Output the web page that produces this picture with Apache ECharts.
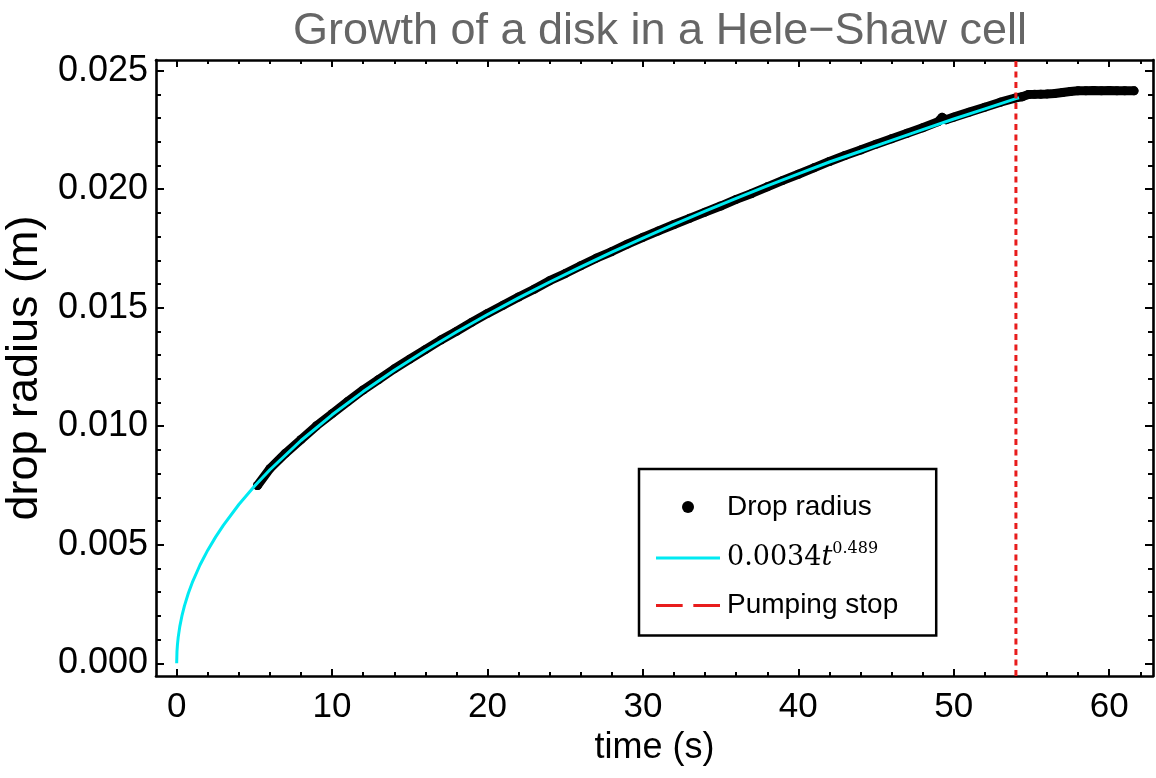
<!DOCTYPE html>
<html>
<head>
<meta charset="utf-8">
<script src="https://cdn.jsdelivr.net/npm/echarts@6/dist/echarts.min.js"></script>
<style>html,body{margin:0;padding:0;background:#fff;}#c{width:1156px;height:778px;}</style>
</head>
<body>
<div id="c"></div>
<script>
// measured drop radius (m) vs time (s)
const tData = [5.2,6,7,8,9,10,11,12,13,14,15,16,17,18,19,20,21,22,23,24,25,26,27,28,29,30,31,32,33,34,35,36,37,38,39,40,41,42,43,44,45,46,47,48,49,49.25,49.5,50,51,52,53,54,54.4,54.8,55.2,55.6,56,56.5,57,57.5,58,58.5,59,59.5,60,60.5,61,61.6];
const rData = [0.00750,0.00821,0.00886,0.00944,0.01002,0.01053,0.01104,0.01153,0.01197,0.01242,0.01283,0.01323,0.01364,0.01400,0.01439,0.01476,0.01510,0.01545,0.01578,0.01614,0.01644,0.01677,0.01709,0.01737,0.01768,0.01797,0.01824,0.01851,0.01877,0.01903,0.01929,0.01957,0.01982,0.02010,0.02037,0.02063,0.02090,0.02117,0.02142,0.02165,0.02190,0.02213,0.02236,0.02259,0.02285,0.02303,0.02293,0.02304,0.02325,0.02346,0.02367,0.02385,0.02390,0.02399,0.02400,0.02401,0.02402,0.02404,0.02408,0.02412,0.02415,0.02415,0.02416,0.02415,0.02416,0.02415,0.02415,0.02415];
// fit curve
const tFit = [0,0.02,0.05,0.1,0.2,0.35,0.5,0.75,1,1.5,2,2.5,3,4,5,6,8,10,12,14,16,18,20,22,24,26,28,30,32,34,36,38,40,42,44,46,48,50,52,54,54.2];
const rFit = [0,0.000502,0.000785,0.001103,0.001547,0.002035,0.002423,0.002954,0.0034,0.004146,0.004772,0.005322,0.005817,0.006698,0.007469,0.008166,0.009399,0.010483,0.011461,0.012358,0.013192,0.013974,0.014712,0.015414,0.016085,0.016727,0.017344,0.017939,0.018514,0.019072,0.019612,0.020137,0.020649,0.021148,0.021600,0.022060,0.022510,0.022960,0.023390,0.023820,0.023860];
const pumpStopT = 54;
const xMajor = [0,10,20,30,40,50,60];
const xMinor = [2,4,6,8,12,14,16,18,22,24,26,28,32,34,36,38,42,44,46,48,52,54,56,58,62];
const yMajor = [0,0.005,0.010,0.015,0.020,0.025];
const yMinor = [0.001,0.002,0.003,0.004,0.006,0.007,0.008,0.009,0.011,0.012,0.013,0.014,0.016,0.017,0.018,0.019,0.021,0.022,0.023,0.024];
const xMin = -1.33, xMax = 62.82, yMin = -0.000536, yMax = 0.02545;

const FONT = "'Liberation Sans', Arial, sans-serif";
const CYAN = '#00eaf2', RED = '#e81c1c';
const chart = echarts.init(document.getElementById('c'), null, {renderer:'canvas'});

function xAx(pos, vals, len, showLine, labels) {
  return {
    type:'value', position:pos, min:xMin, max:xMax,
    axisLine:{show:showLine, onZero:false, lineStyle:{color:'#000', width:2.6}},
    axisTick:{show:true, inside:true, length:len, customValues:vals, lineStyle:{color:'#000', width:2}},
    axisLabel:labels ? {show:true, customValues:xMajor, color:'#000', fontSize:35, fontFamily:FONT, margin:14} : {show:false},
    splitLine:{show:false}
  };
}
function yAx(pos, vals, len, showLine, labels) {
  return {
    type:'value', position:pos, min:yMin, max:yMax,
    axisLine:{show:showLine, onZero:false, lineStyle:{color:'#000', width:2.6}},
    axisTick:{show:true, inside:true, length:len, customValues:vals, lineStyle:{color:'#000', width:2}},
    axisLabel:labels ? {show:true, customValues:yMajor, color:'#000', fontSize:36, fontFamily:FONT, margin:8,
      formatter:v=>v.toFixed(3)} : {show:false},
    splitLine:{show:false}
  };
}
const xa0 = xAx('bottom', xMajor, 7, true, true);
xa0.name = 'time (s)'; xa0.nameLocation='middle'; xa0.nameGap=54;
xa0.nameTextStyle = {color:'#000', fontSize:36, fontFamily:FONT};
const ya0 = yAx('left', yMajor, 8, true, true);
ya0.name = 'drop radius (m)'; ya0.nameLocation='middle'; ya0.nameGap=104;
ya0.nameTextStyle = {color:'#000', fontSize:45, fontFamily:FONT};

const option = {
  animation:false,
  backgroundColor:'#fff',
  title:{text:'Growth of a disk in a Hele\u2212Shaw cell', left:655, textAlign:'center', top:4,
    textStyle:{color:'#666', fontSize:45, fontWeight:'normal', fontFamily:FONT}},
  grid:{left:156, right:3, top:60, bottom:102, containLabel:false, outerBoundsMode:'none'},
  xAxis:[xa0, xAx('bottom', xMinor, 4, false, false), xAx('top', xMajor, 7, true, false), xAx('top', xMinor, 4, false, false)],
  yAxis:[ya0, yAx('left', yMinor, 5, false, false), yAx('right', yMajor, 8, true, false), yAx('right', yMinor, 5, false, false)],
  legend:{
    orient:'vertical', left:639, top:469, width:260,
    backgroundColor:'#fff', borderColor:'#000', borderWidth:2.5, borderRadius:0,
    padding:[24, 38, 16, 17],
    itemWidth:64, itemHeight:12, itemGap:20,
    textStyle:{color:'#000', fontSize:28, fontFamily:FONT, padding:[0,0,0,2],
      rich:{
        n:{fontFamily:"'DejaVu Serif', serif", fontSize:27, color:'#000'},
        i:{fontFamily:"'DejaVu Serif', serif", fontStyle:'italic', fontSize:27, color:'#000'},
        s:{fontFamily:"'DejaVu Serif', serif", fontSize:16, color:'#000', padding:[0,0,18,0]}
      }},
    formatter:function(name){
      if (name === 'fit') return '{n|0.0034}{i|t}{s|0.489}';
      return name;
    },
    data:[
      {name:'Drop radius', icon:'circle', itemStyle:{color:'#000'}},
      {name:'fit', icon:'path://M0,0h64v3h-64z', itemStyle:{color:CYAN}},
      {name:'Pumping stop', icon:'path://M0,0h25v3h-25z M35,0h25v3h-25z', itemStyle:{color:RED}}
    ]
  },
  series:[
    {name:'Drop radius', type:'line', xAxisIndex:0, yAxisIndex:0,
      data:tData.map((t,i)=>[t, rData[i]]),
      symbol:'circle', symbolSize:9, showAllSymbol:true,
      itemStyle:{color:'#000'}, lineStyle:{color:'#000', width:9, cap:'round', join:'round'}, z:2},
    {name:'fit', type:'line', xAxisIndex:0, yAxisIndex:0,
      data:tFit.map((t,i)=>[t, rFit[i]]),
      showSymbol:false, symbol:'none', itemStyle:{color:CYAN},
      lineStyle:{color:CYAN, width:3}, z:3},
    {name:'Pumping stop', type:'line', xAxisIndex:0, yAxisIndex:0,
      data:[[pumpStopT, yMin],[pumpStopT, yMax]],
      showSymbol:false, symbol:'none', itemStyle:{color:RED},
      lineStyle:{color:RED, width:3, type:[6,4.5]}, z:4}
  ]
};
chart.setOption(option);
</script>
</body>
</html>
